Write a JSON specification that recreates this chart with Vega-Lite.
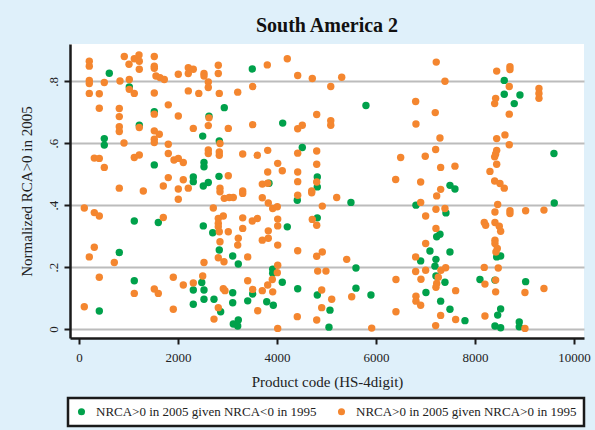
{
  "$schema": "https://vega.github.io/schema/vega-lite/v6.json",
  "width": 514,
  "height": 294,
  "autosize": {"type": "none"},
  "padding": {"left": 70, "top": 44, "right": 11, "bottom": 92},
  "background": "#dff0fa",
  "title": {"text": "South America 2", "font": "Liberation Serif", "fontSize": 20, "fontWeight": "bold", "color": "#111111", "anchor": "middle", "offset": 8},
  "config": {
    "view": {"fill": "white", "stroke": null},
    "axis": {"labelFont": "Liberation Serif", "titleFont": "Liberation Serif", "labelFontSize": 13, "titleFontSize": 15, "titleFontWeight": "normal", "labelColor": "#222222", "titleColor": "#222222", "domainColor": "#1a1a1a", "domainWidth": 2.5, "tickColor": "#1a1a1a", "tickWidth": 2, "tickSize": 6},
    "legend": {"strokeWidth": 2.5}
  },
  "data": {"values": [
{"x":612,"y":0.826,"s":"g"},{"x":1016,"y":0.782,"s":"g"},{"x":1521,"y":0.702,"s":"g"},{"x":1218,"y":0.658,"s":"g"},{"x":511,"y":0.615,"s":"g"},{"x":511,"y":0.594,"s":"g"},{"x":1521,"y":0.530,"s":"g"},{"x":2309,"y":0.491,"s":"g"},{"x":2309,"y":0.476,"s":"g"},{"x":1117,"y":0.349,"s":"g"},{"x":1602,"y":0.344,"s":"g"},{"x":814,"y":0.247,"s":"g"},{"x":1117,"y":0.156,"s":"g"},{"x":2309,"y":0.126,"s":"g"},{"x":2309,"y":0.080,"s":"g"},{"x":410,"y":0.058,"s":"g"},{"x":3501,"y":0.840,"s":"g"},{"x":2935,"y":0.715,"s":"g"},{"x":2626,"y":0.687,"s":"g"},{"x":4115,"y":0.665,"s":"g"},{"x":2499,"y":0.623,"s":"g"},{"x":2834,"y":0.607,"s":"g"},{"x":4511,"y":0.586,"s":"g"},{"x":2525,"y":0.538,"s":"g"},{"x":2525,"y":0.524,"s":"g"},{"x":2828,"y":0.493,"s":"g"},{"x":2612,"y":0.473,"s":"g"},{"x":4814,"y":0.491,"s":"g"},{"x":4814,"y":0.459,"s":"g"},{"x":3838,"y":0.471,"s":"g"},{"x":2511,"y":0.462,"s":"g"},{"x":4410,"y":0.416,"s":"g"},{"x":4814,"y":0.359,"s":"g"},{"x":2511,"y":0.333,"s":"g"},{"x":2701,"y":0.311,"s":"g"},{"x":4208,"y":0.330,"s":"g"},{"x":2834,"y":0.255,"s":"g"},{"x":3105,"y":0.236,"s":"g"},{"x":3218,"y":0.210,"s":"g"},{"x":3913,"y":0.193,"s":"g"},{"x":3913,"y":0.180,"s":"g"},{"x":4107,"y":0.151,"s":"g"},{"x":2480,"y":0.150,"s":"g"},{"x":2525,"y":0.126,"s":"g"},{"x":2525,"y":0.096,"s":"g"},{"x":3105,"y":0.117,"s":"g"},{"x":3105,"y":0.085,"s":"g"},{"x":2727,"y":0.096,"s":"g"},{"x":3408,"y":0.091,"s":"g"},{"x":3509,"y":0.113,"s":"g"},{"x":3792,"y":0.088,"s":"g"},{"x":3925,"y":0.077,"s":"g"},{"x":4418,"y":0.130,"s":"g"},{"x":4814,"y":0.110,"s":"g"},{"x":2862,"y":0.056,"s":"g"},{"x":3218,"y":0.029,"s":"g"},{"x":3117,"y":0.016,"s":"g"},{"x":3206,"y":0.010,"s":"g"},{"x":5050,"y":0.006,"s":"g"},{"x":5070,"y":0.061,"s":"g"},{"x":5797,"y":0.722,"s":"g"},{"x":7494,"y":0.464,"s":"g"},{"x":7595,"y":0.452,"s":"g"},{"x":5494,"y":0.409,"s":"g"},{"x":6807,"y":0.400,"s":"g"},{"x":7413,"y":0.375,"s":"g"},{"x":7226,"y":0.298,"s":"g"},{"x":7292,"y":0.306,"s":"g"},{"x":7090,"y":0.252,"s":"g"},{"x":7494,"y":0.249,"s":"g"},{"x":6902,"y":0.220,"s":"g"},{"x":7211,"y":0.225,"s":"g"},{"x":7191,"y":0.203,"s":"g"},{"x":5595,"y":0.197,"s":"g"},{"x":7211,"y":0.171,"s":"g"},{"x":7393,"y":0.151,"s":"g"},{"x":5595,"y":0.132,"s":"g"},{"x":5898,"y":0.110,"s":"g"},{"x":7009,"y":0.118,"s":"g"},{"x":7306,"y":0.090,"s":"g"},{"x":7494,"y":0.064,"s":"g"},{"x":8591,"y":0.803,"s":"g"},{"x":8591,"y":0.758,"s":"g"},{"x":8908,"y":0.756,"s":"g"},{"x":8793,"y":0.728,"s":"g"},{"x":9595,"y":0.567,"s":"g"},{"x":9601,"y":0.407,"s":"g"},{"x":8438,"y":0.233,"s":"g"},{"x":8518,"y":0.236,"s":"g"},{"x":8100,"y":0.160,"s":"g"},{"x":8403,"y":0.158,"s":"g"},{"x":9023,"y":0.153,"s":"g"},{"x":8518,"y":0.065,"s":"g"},{"x":8458,"y":0.045,"s":"g"},{"x":7797,"y":0.027,"s":"g"},{"x":8894,"y":0.023,"s":"g"},{"x":8894,"y":0.007,"s":"g"},{"x":8403,"y":0.010,"s":"g"},{"x":8518,"y":0.004,"s":"g"},
{"x":208,"y":0.865,"s":"o"},{"x":208,"y":0.849,"s":"o"},{"x":915,"y":0.880,"s":"o"},{"x":1117,"y":0.873,"s":"o"},{"x":1212,"y":0.885,"s":"o"},{"x":1218,"y":0.865,"s":"o"},{"x":1010,"y":0.855,"s":"o"},{"x":1218,"y":0.839,"s":"o"},{"x":1521,"y":0.880,"s":"o"},{"x":1521,"y":0.849,"s":"o"},{"x":1521,"y":0.842,"s":"o"},{"x":2208,"y":0.844,"s":"o"},{"x":2309,"y":0.839,"s":"o"},{"x":2208,"y":0.825,"s":"o"},{"x":2006,"y":0.823,"s":"o"},{"x":1555,"y":0.817,"s":"o"},{"x":1636,"y":0.812,"s":"o"},{"x":1723,"y":0.806,"s":"o"},{"x":208,"y":0.803,"s":"o"},{"x":208,"y":0.793,"s":"o"},{"x":511,"y":0.796,"s":"o"},{"x":828,"y":0.801,"s":"o"},{"x":1016,"y":0.806,"s":"o"},{"x":1016,"y":0.774,"s":"o"},{"x":1117,"y":0.761,"s":"o"},{"x":208,"y":0.761,"s":"o"},{"x":410,"y":0.760,"s":"o"},{"x":1521,"y":0.762,"s":"o"},{"x":2208,"y":0.769,"s":"o"},{"x":2420,"y":0.761,"s":"o"},{"x":410,"y":0.713,"s":"o"},{"x":814,"y":0.712,"s":"o"},{"x":814,"y":0.686,"s":"o"},{"x":1804,"y":0.724,"s":"o"},{"x":1521,"y":0.694,"s":"o"},{"x":2006,"y":0.688,"s":"o"},{"x":2309,"y":0.648,"s":"o"},{"x":1218,"y":0.651,"s":"o"},{"x":814,"y":0.653,"s":"o"},{"x":814,"y":0.638,"s":"o"},{"x":1521,"y":0.640,"s":"o"},{"x":1622,"y":0.629,"s":"o"},{"x":1521,"y":0.613,"s":"o"},{"x":1521,"y":0.602,"s":"o"},{"x":909,"y":0.601,"s":"o"},{"x":1804,"y":0.597,"s":"o"},{"x":309,"y":0.552,"s":"o"},{"x":410,"y":0.551,"s":"o"},{"x":1117,"y":0.554,"s":"o"},{"x":1218,"y":0.562,"s":"o"},{"x":1804,"y":0.567,"s":"o"},{"x":1919,"y":0.546,"s":"o"},{"x":2006,"y":0.551,"s":"o"},{"x":2107,"y":0.538,"s":"o"},{"x":511,"y":0.522,"s":"o"},{"x":1804,"y":0.489,"s":"o"},{"x":2107,"y":0.482,"s":"o"},{"x":814,"y":0.455,"s":"o"},{"x":1299,"y":0.446,"s":"o"},{"x":1703,"y":0.462,"s":"o"},{"x":2006,"y":0.452,"s":"o"},{"x":2208,"y":0.455,"s":"o"},
{"x":2006,"y":0.419,"s":"o"},{"x":107,"y":0.391,"s":"o"},{"x":309,"y":0.376,"s":"o"},{"x":410,"y":0.365,"s":"o"},{"x":1703,"y":0.360,"s":"o"},{"x":309,"y":0.264,"s":"o"},{"x":208,"y":0.233,"s":"o"},{"x":713,"y":0.215,"s":"o"},{"x":410,"y":0.167,"s":"o"},{"x":1905,"y":0.167,"s":"o"},{"x":2107,"y":0.142,"s":"o"},{"x":2309,"y":0.149,"s":"o"},{"x":1117,"y":0.115,"s":"o"},{"x":1521,"y":0.129,"s":"o"},{"x":1602,"y":0.115,"s":"o"},{"x":107,"y":0.072,"s":"o"},{"x":1905,"y":0.064,"s":"o"},
{"x":4208,"y":0.873,"s":"o"},{"x":3804,"y":0.853,"s":"o"},{"x":2814,"y":0.852,"s":"o"},{"x":2814,"y":0.825,"s":"o"},{"x":2525,"y":0.825,"s":"o"},{"x":2525,"y":0.817,"s":"o"},{"x":2612,"y":0.798,"s":"o"},{"x":2612,"y":0.780,"s":"o"},{"x":4418,"y":0.819,"s":"o"},{"x":4713,"y":0.809,"s":"o"},{"x":3509,"y":0.783,"s":"o"},{"x":3206,"y":0.765,"s":"o"},{"x":2834,"y":0.761,"s":"o"},{"x":5086,"y":0.783,"s":"o"},{"x":2626,"y":0.682,"s":"o"},{"x":4802,"y":0.693,"s":"o"},{"x":2612,"y":0.657,"s":"o"},{"x":3016,"y":0.648,"s":"o"},{"x":3509,"y":0.660,"s":"o"},{"x":4418,"y":0.647,"s":"o"},{"x":4511,"y":0.658,"s":"o"},{"x":5086,"y":0.673,"s":"o"},{"x":5086,"y":0.658,"s":"o"},{"x":2848,"y":0.599,"s":"o"},{"x":2612,"y":0.578,"s":"o"},{"x":2612,"y":0.567,"s":"o"},{"x":2834,"y":0.572,"s":"o"},{"x":2834,"y":0.561,"s":"o"},{"x":3307,"y":0.565,"s":"o"},{"x":3602,"y":0.561,"s":"o"},{"x":3812,"y":0.577,"s":"o"},{"x":4418,"y":0.568,"s":"o"},{"x":4802,"y":0.575,"s":"o"},{"x":4802,"y":0.532,"s":"o"},{"x":4014,"y":0.535,"s":"o"},{"x":4107,"y":0.511,"s":"o"},{"x":3812,"y":0.507,"s":"o"},{"x":4418,"y":0.507,"s":"o"},{"x":3016,"y":0.495,"s":"o"},{"x":4418,"y":0.476,"s":"o"},{"x":4802,"y":0.475,"s":"o"},{"x":3703,"y":0.468,"s":"o"},{"x":3812,"y":0.471,"s":"o"},{"x":2848,"y":0.455,"s":"o"},{"x":3307,"y":0.446,"s":"o"},{"x":4701,"y":0.446,"s":"o"},
{"x":2848,"y":0.443,"s":"o"},{"x":2935,"y":0.422,"s":"o"},{"x":3036,"y":0.425,"s":"o"},{"x":3117,"y":0.425,"s":"o"},{"x":3307,"y":0.438,"s":"o"},{"x":3703,"y":0.424,"s":"o"},{"x":3824,"y":0.407,"s":"o"},{"x":3913,"y":0.389,"s":"o"},{"x":4006,"y":0.395,"s":"o"},{"x":4418,"y":0.432,"s":"o"},{"x":4701,"y":0.440,"s":"o"},{"x":2713,"y":0.391,"s":"o"},{"x":4915,"y":0.397,"s":"o"},{"x":2814,"y":0.357,"s":"o"},{"x":2915,"y":0.365,"s":"o"},{"x":2814,"y":0.341,"s":"o"},{"x":2814,"y":0.330,"s":"o"},{"x":2834,"y":0.314,"s":"o"},{"x":3307,"y":0.359,"s":"o"},{"x":3501,"y":0.349,"s":"o"},{"x":3602,"y":0.357,"s":"o"},{"x":4014,"y":0.355,"s":"o"},{"x":4014,"y":0.333,"s":"o"},{"x":3307,"y":0.325,"s":"o"},{"x":3016,"y":0.314,"s":"o"},{"x":3824,"y":0.317,"s":"o"},{"x":4713,"y":0.354,"s":"o"},{"x":4802,"y":0.335,"s":"o"},{"x":2848,"y":0.282,"s":"o"},{"x":3218,"y":0.293,"s":"o"},{"x":3206,"y":0.271,"s":"o"},{"x":3703,"y":0.287,"s":"o"},{"x":3824,"y":0.293,"s":"o"},{"x":4014,"y":0.271,"s":"o"},{"x":4418,"y":0.253,"s":"o"},{"x":4802,"y":0.235,"s":"o"},{"x":4915,"y":0.249,"s":"o"},{"x":2525,"y":0.215,"s":"o"},{"x":2814,"y":0.230,"s":"o"},{"x":2929,"y":0.217,"s":"o"},{"x":3408,"y":0.233,"s":"o"},{"x":4014,"y":0.206,"s":"o"},{"x":4006,"y":0.182,"s":"o"},{"x":3905,"y":0.160,"s":"o"},{"x":3812,"y":0.142,"s":"o"},{"x":2499,"y":0.171,"s":"o"},{"x":3408,"y":0.156,"s":"o"},{"x":2915,"y":0.130,"s":"o"},{"x":2949,"y":0.124,"s":"o"},{"x":3509,"y":0.128,"s":"o"},{"x":3703,"y":0.124,"s":"o"},{"x":3913,"y":0.120,"s":"o"},{"x":4822,"y":0.187,"s":"o"},{"x":4989,"y":0.187,"s":"o"},{"x":4903,"y":0.126,"s":"o"},{"x":2814,"y":0.069,"s":"o"},{"x":3610,"y":0.059,"s":"o"},{"x":2727,"y":0.032,"s":"o"},{"x":4410,"y":0.040,"s":"o"},{"x":4802,"y":0.029,"s":"o"},{"x":4903,"y":0.069,"s":"o"},{"x":4014,"y":0.002,"s":"o"},
{"x":7217,"y":0.862,"s":"o"},{"x":5307,"y":0.813,"s":"o"},{"x":7393,"y":0.800,"s":"o"},{"x":6801,"y":0.735,"s":"o"},{"x":7197,"y":0.699,"s":"o"},{"x":6807,"y":0.662,"s":"o"},{"x":7292,"y":0.617,"s":"o"},{"x":7205,"y":0.580,"s":"o"},{"x":6498,"y":0.554,"s":"o"},{"x":6995,"y":0.558,"s":"o"},{"x":7306,"y":0.522,"s":"o"},{"x":7595,"y":0.526,"s":"o"},{"x":6397,"y":0.483,"s":"o"},{"x":6902,"y":0.475,"s":"o"},{"x":7306,"y":0.451,"s":"o"},
{"x":5206,"y":0.425,"s":"o"},{"x":7226,"y":0.430,"s":"o"},{"x":6902,"y":0.409,"s":"o"},{"x":7003,"y":0.365,"s":"o"},{"x":7211,"y":0.387,"s":"o"},{"x":7393,"y":0.389,"s":"o"},{"x":7211,"y":0.325,"s":"o"},{"x":7003,"y":0.276,"s":"o"},{"x":6801,"y":0.233,"s":"o"},{"x":5408,"y":0.225,"s":"o"},{"x":6801,"y":0.186,"s":"o"},{"x":7003,"y":0.190,"s":"o"},{"x":6908,"y":0.161,"s":"o"},{"x":6403,"y":0.160,"s":"o"},{"x":7312,"y":0.190,"s":"o"},{"x":7407,"y":0.198,"s":"o"},{"x":7258,"y":0.167,"s":"o"},{"x":7226,"y":0.147,"s":"o"},{"x":7211,"y":0.135,"s":"o"},{"x":5105,"y":0.096,"s":"o"},{"x":5509,"y":0.104,"s":"o"},{"x":6807,"y":0.106,"s":"o"},{"x":6807,"y":0.090,"s":"o"},{"x":6902,"y":0.077,"s":"o"},{"x":7609,"y":0.124,"s":"o"},{"x":6403,"y":0.056,"s":"o"},{"x":7306,"y":0.044,"s":"o"},{"x":7609,"y":0.031,"s":"o"},{"x":7205,"y":0.011,"s":"o"},{"x":5913,"y":0.003,"s":"o"},
{"x":8438,"y":0.833,"s":"o"},{"x":8706,"y":0.847,"s":"o"},{"x":8706,"y":0.838,"s":"o"},{"x":8692,"y":0.783,"s":"o"},{"x":8417,"y":0.745,"s":"o"},{"x":8397,"y":0.728,"s":"o"},{"x":8692,"y":0.694,"s":"o"},{"x":9292,"y":0.777,"s":"o"},{"x":9292,"y":0.761,"s":"o"},{"x":9292,"y":0.745,"s":"o"},{"x":8438,"y":0.615,"s":"o"},{"x":8605,"y":0.627,"s":"o"},{"x":8692,"y":0.595,"s":"o"},{"x":8438,"y":0.577,"s":"o"},{"x":8417,"y":0.565,"s":"o"},{"x":8397,"y":0.556,"s":"o"},{"x":8438,"y":0.532,"s":"o"},{"x":8302,"y":0.509,"s":"o"},{"x":8397,"y":0.478,"s":"o"},{"x":8504,"y":0.470,"s":"o"},{"x":8591,"y":0.455,"s":"o"},
{"x":8458,"y":0.402,"s":"o"},{"x":8403,"y":0.378,"s":"o"},{"x":8706,"y":0.382,"s":"o"},{"x":8706,"y":0.373,"s":"o"},{"x":9023,"y":0.382,"s":"o"},{"x":9393,"y":0.384,"s":"o"},{"x":8187,"y":0.344,"s":"o"},{"x":8215,"y":0.335,"s":"o"},{"x":8403,"y":0.344,"s":"o"},{"x":8490,"y":0.332,"s":"o"},{"x":8518,"y":0.316,"s":"o"},{"x":8403,"y":0.287,"s":"o"},{"x":8403,"y":0.276,"s":"o"},{"x":8450,"y":0.260,"s":"o"},{"x":8423,"y":0.249,"s":"o"},{"x":8187,"y":0.199,"s":"o"},{"x":8470,"y":0.197,"s":"o"},{"x":8201,"y":0.145,"s":"o"},{"x":8417,"y":0.158,"s":"o"},{"x":8417,"y":0.120,"s":"o"},{"x":9009,"y":0.118,"s":"o"},{"x":9393,"y":0.131,"s":"o"},{"x":8201,"y":0.042,"s":"o"},{"x":9009,"y":0.002,"s":"o"}
  ]},
  "mark": {"type": "point", "filled": true, "opacity": 1, "size": 55, "strokeWidth": 0},
  "encoding": {
    "x": {"field": "x", "type": "quantitative", "scale": {"domain": [-182, 10202], "nice": false, "zero": false},
      "axis": {"title": "Product code (HS-4digit)", "values": [0, 2000, 4000, 6000, 8000, 10000], "format": "d", "grid": false, "labelPadding": 7, "titlePadding": 10}},
    "y": {"field": "y", "type": "quantitative", "scale": {"domain": [-0.029, 0.9205], "nice": false, "zero": false},
      "axis": {"title": "Normalized RCA>0 in 2005", "values": [0, 0.2, 0.4, 0.6, 0.8], "labelExpr": "datum.value == 0 ? '0' : '.' + round(datum.value * 10)", "labelAngle": -90, "labelAlign": "center", "labelBaseline": "bottom", "labelPadding": 4, "grid": true, "gridColor": "#bcbcbc", "gridWidth": 2, "titlePadding": 13}},
    "color": {"field": "s", "type": "nominal", "scale": {"domain": ["g", "o"], "range": ["#00a14b", "#f4862f"]},
      "legend": {"title": null, "orient": "none", "legendX": -2, "legendY": 354, "direction": "horizontal", "labelExpr": "datum.value == 'g' ? 'NRCA>0 in 2005 given NRCA<0 in 1995' : 'NRCA>0 in 2005 given NRCA>0 in 1995'", "labelFont": "Liberation Serif", "labelFontSize": 13, "labelColor": "#222222", "labelLimit": 400, "labelOffset": 8, "symbolType": "circle", "symbolSize": 50, "symbolStrokeWidth": 0, "columnPadding": 18, "padding": 7, "fillColor": "white", "strokeColor": "#1a1a1a"}}
  }
}
